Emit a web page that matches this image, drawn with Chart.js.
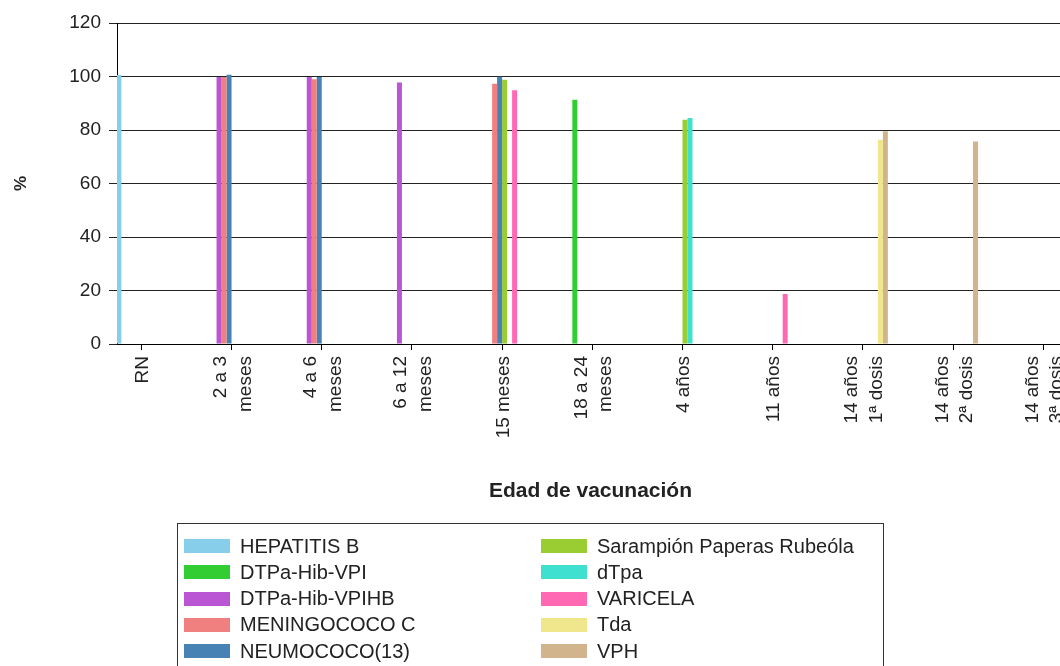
<!DOCTYPE html>
<html lang="es">
<head>
<meta charset="utf-8">
<title>Coberturas de vacunación por edad</title>
<script src="https://cdn.jsdelivr.net/npm/chart.js@4.4.1/dist/chart.umd.min.js"></script>
<style>
  html, body { margin: 0; padding: 0; overflow: hidden; background: #fff; }
  #wrap { position: relative; width: 1064px; height: 666px; }
  #legend {
    position: absolute; left: 177px; top: 523px; width: 707px; height: 170px;
    border: 1px solid #333; box-sizing: border-box;
    font: 20px 'Liberation Sans', Arial, sans-serif; color: #222;
  }
  .item { position: absolute; display: flex; align-items: center; height: 26px; white-space: nowrap; }
  .swatch { display: inline-block; width: 46px; height: 14px; margin-right: 10px; }
</style>
</head>
<body>
<div id="wrap">
  <canvas id="chart"></canvas>
  <div id="legend"></div>
</div>
<script>
const FONT = "'Liberation Sans', Arial, sans-serif";

// age groups (one array of lines per category)
const ages = [
  ['RN'], ['2 a 3', 'meses'], ['4 a 6', 'meses'], ['6 a 12', 'meses'], ['15 meses'],
  ['18 a 24', 'meses'], ['4 años'], ['11 años'], ['14 años', '1ª dosis'],
  ['14 años', '2ª dosis'], ['14 años', '3ª dosis']
];

const seriesNames = [
  'HEPATITIS B', 'DTPa-Hib-VPI', 'DTPa-Hib-VPIHB', 'MENINGOCOCO C', 'NEUMOCOCO(13)',
  'Sarampión Paperas Rubeóla', 'dTpa', 'VARICELA', 'Tda', 'VPH'
];
const seriesColors = [
  '#87ceeb', '#32cd32', '#ba55d3', '#f08080', '#4682b4',
  '#9acd32', '#40e0d0', '#ff69b4', '#f0e68c', '#d2b48c'
];

//                 RN     2-3    4-6   6-12   15m   18-24   4a    11a   14a1  14a2  14a3
const hepatitisB   = [100.6, null, null, null, null, null, null, null, null, null, null];
const dtpaHibVpi   = [null, null, null, null, null, 91.3, null, null, null, null, null];
const dtpaHibVpihb = [null, 99.8, 99.8, 97.8, null, null, null, null, null, null, null];
const meningococoC = [null, 99.8, 99.0, null, 97.3, null, null, null, null, null, null];
const neumococo13  = [null, 100.7, 99.8, null, 99.9, null, null, null, null, null, null];
const sarampion    = [null, null, null, null, 98.8, null, 83.8, null, null, null, null];
const dtpa         = [null, null, null, null, null, null, 84.5, null, null, null, null];
const varicela     = [null, null, null, null, 94.9, null, null, 18.7, null, null, null];
const tda          = [null, null, null, null, null, null, null, null, 76.4, null, null];
const vph          = [null, null, null, null, null, null, null, null, 79.5, 75.7, null];

const seriesValues = [hepatitisB, dtpaHibVpi, dtpaHibVpihb, meningococoC, neumococo13,
  sarampion, dtpa, varicela, tda, vph];

const yMin = 0, yMax = 120, yStep = 20;

// rotated, centred multi-line category labels under the ticks
const ageLabels = {
  id: 'ageLabels',
  afterDraw(chart) {
    const sx = chart.scales.x;
    const ctx = chart.ctx;
    ctx.save();
    ctx.font = '19px ' + FONT;
    ctx.fillStyle = '#222';
    ctx.textAlign = 'right';
    ctx.textBaseline = 'alphabetic';
    ages.forEach((lines, i) => {
      const px = sx.getPixelForValue(i);
      lines.forEach((line, j) => {
        ctx.save();
        ctx.translate(px + 6.8 + (j - (lines.length - 1) / 2) * 24.5, sx.top + 12);
        ctx.rotate(-Math.PI / 2);
        ctx.fillText(line, 0, 0);
        ctx.restore();
      });
    });
    ctx.restore();
  }
};

const chart = new Chart(document.getElementById('chart'), {
  type: 'bar',
  data: {
    datasets: seriesNames.map((name, k) => ({
      label: name,
      data: seriesValues[k].map((v, i) => ({ x: i, y: v })),
      backgroundColor: seriesColors[k],
      borderWidth: 0,
      categoryPercentage: 0.554,
      barPercentage: 1
    }))
  },
  options: {
    responsive: true,
    maintainAspectRatio: false,
    animation: false,
    layout: { padding: { top: 23, left: 0, right: 0, bottom: 159 } },
    plugins: { legend: { display: false }, tooltip: { enabled: false } },
    scales: {
      x: {
        type: 'linear',
        offset: false,
        min: -0.27,
        max: 10.23,
        afterFit(s) { s.height = 163; },
        ticks: { display: false, stepSize: 1, includeBounds: false },
        grid: { offset: false, drawOnChartArea: false, drawTicks: true, tickLength: 6, color: '#000' },
        border: { display: true, color: '#000' },
        title: {
          display: true, text: 'Edad de vacunación', color: '#222',
          font: { family: FONT, size: 21, weight: 'bold' },
          padding: { top: 0, bottom: 3 }
        }
      },
      y: {
        min: yMin,
        max: yMax,
        afterFit(s) { s.width = 117; },
        ticks: { stepSize: yStep, color: '#222', padding: 8, font: { family: FONT, size: 19 } },
        grid: { color: '#222', tickLength: 8 },
        border: { color: '#000' },
        title: {
          display: true, text: '%', color: '#222',
          font: { family: FONT, size: 17, weight: 'bold' },
          padding: { top: 11, bottom: 0 }
        }
      }
    }
  },
  plugins: [ageLabels]
});

// two-column boxed legend, built from the chart's datasets
const legendEl = document.getElementById('legend');
chart.data.datasets.forEach((ds, k) => {
  const item = document.createElement('div');
  item.className = 'item';
  item.style.left = (6 + Math.floor(k / 5) * 357) + 'px';
  item.style.top = (9 + (k % 5) * 26.3) + 'px';
  item.innerHTML = `<span class="swatch" style="background:${ds.backgroundColor}"></span>${ds.label}`;
  legendEl.appendChild(item);
});
</script>
</body>
</html>
